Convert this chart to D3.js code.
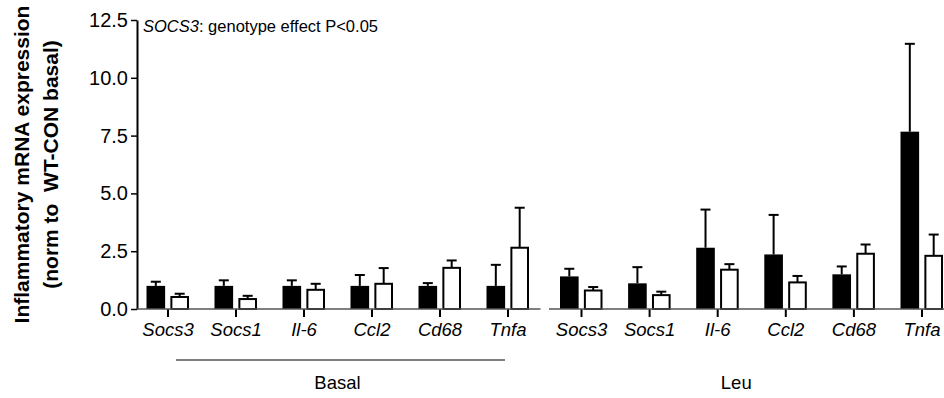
<!DOCTYPE html>
<html>
<head>
<meta charset="utf-8">
<script src="https://cdn.jsdelivr.net/npm/d3@7"></script>
<style>
  body { margin: 0; background: #fff; }
  text { font-family: "Liberation Sans", Arial, sans-serif; fill: #000; }
  .xaxis text { font-style: italic; font-size: 18.5px; }
  .yaxis text { font-size: 20px; }
</style>
</head>
<body>
<div id="chart"></div>
<script>
// categories (genes) and group labels
var genes = ["Socs3", "Socs1", "Il-6", "Ccl2", "Cd68", "Tnfa"];
var groups = ["Basal", "Leu"];
var yTicks = [0, 2.5, 5, 7.5, 10, 12.5];

// means and upward error (SEM)
var basalFilled = [1.0, 1.0, 1.0, 1.0, 1.0, 1.0],
    basalFilledErr = [0.18, 0.24, 0.24, 0.47, 0.12, 0.91],
    basalOpen = [0.52, 0.43, 0.83, 1.09, 1.78, 2.65],
    basalOpenErr = [0.14, 0.14, 0.26, 0.68, 0.32, 1.73];

var leuFilled = [1.41, 1.11, 2.65, 2.36, 1.50, 7.67],
    leuFilledErr = [0.33, 0.70, 1.65, 1.71, 0.34, 3.80],
    leuOpen = [0.80, 0.60, 1.70, 1.15, 2.39, 2.30],
    leuOpenErr = [0.15, 0.15, 0.24, 0.28, 0.40, 0.92];

var W = 944, H = 398;
var axisX = 137, y0 = 309, yTop = 20;

var svg = d3.select("#chart")
    .append("svg")
    .attr("width", W)
    .attr("height", H);

// scales
var y = d3.scaleLinear().domain([0, 12.5]).range([y0, yTop]);
var xBasal = d3.scalePoint().domain(genes).range([167.5, 507.5]);
var xLeu = d3.scalePoint().domain(genes).range([581, 921.5]);
var xSub = d3.scaleBand().domain(["filled", "open"]).range([-21, 21.5]).paddingInner(0.22);

// flatten into bar records
function rows(group, xs, filled, filledErr, open, openErr) {
    var out = [];
    genes.forEach(function(g, i) {
        out.push({group: group, gene: g, x: xs, kind: "filled", mean: filled[i], err: filledErr[i]});
        out.push({group: group, gene: g, x: xs, kind: "open", mean: open[i], err: openErr[i]});
    });
    return out;
}
var data = rows("Basal", xBasal, basalFilled, basalFilledErr, basalOpen, basalOpenErr)
    .concat(rows("Leu", xLeu, leuFilled, leuFilledErr, leuOpen, leuOpenErr));

function barLeft(d) { return d.x(d.gene) + xSub(d.kind); }
function barMid(d) { return barLeft(d) + xSub.bandwidth() / 2; }

// error bars (drawn under bars)
var eb = svg.append("g").attr("class", "errbars");
eb.selectAll("line.stem")
    .data(data)
  .enter().append("line")
    .attr("x1", barMid).attr("x2", barMid)
    .attr("y1", function(d) { return y(d.mean); })
    .attr("y2", function(d) { return y(d.mean + d.err); })
    .style("stroke", "#000").style("stroke-width", 2);
eb.selectAll("line.cap")
    .data(data)
  .enter().append("line")
    .attr("x1", function(d) { return barMid(d) - 5; })
    .attr("x2", function(d) { return barMid(d) + 5; })
    .attr("y1", function(d) { return y(d.mean + d.err); })
    .attr("y2", function(d) { return y(d.mean + d.err); })
    .style("stroke", "#000").style("stroke-width", 2);

// bars
svg.selectAll(".bar")
    .data(data)
  .enter().append("rect")
    .attr("class", "bar")
    .attr("x", function(d) { return d.kind == "open" ? barLeft(d) + 1 : barLeft(d); })
    .attr("width", function(d) { return d.kind == "open" ? xSub.bandwidth() - 2 : xSub.bandwidth(); })
    .attr("y", function(d) { return y(d.mean); })
    .attr("height", function(d) { return y0 - y(d.mean); })
    .style("fill", function(d) { return d.kind == "open" ? "#fff" : "#000"; })
    .style("stroke", "#000")
    .style("stroke-width", function(d) { return d.kind == "open" ? 2 : 0; });

// Y axis
var yAxis = svg.append("g")
    .attr("class", "yaxis")
    .attr("transform", "translate(" + axisX + ",0)")
    .call(d3.axisLeft(y).tickValues(yTicks).tickFormat(d3.format(".1f")).tickSize(6).tickPadding(3).tickSizeOuter(0));
yAxis.select(".domain").style("stroke", "#000").style("stroke-width", 2);
yAxis.selectAll(".tick line").style("stroke", "#000").style("stroke-width", 1.5);

// X axes, one per group, with a break between
function xAxisGroup(xs, x1, x2) {
    var g = svg.append("g")
        .attr("class", "xaxis")
        .attr("transform", "translate(0," + y0 + ")")
        .call(d3.axisBottom(xs).tickSize(8).tickPadding(6).tickSizeOuter(0));
    g.select(".domain").remove();
    g.selectAll(".tick line").style("stroke", "#000").style("stroke-width", 2);
    g.append("line")
        .attr("x1", x1).attr("x2", x2)
        .attr("y1", 0).attr("y2", 0)
        .style("stroke", "#555").style("stroke-width", 1.5);
}
xAxisGroup(xBasal, axisX, xBasal("Tnfa") + 33);
xAxisGroup(xLeu, xLeu("Socs3") - 32, W);

// group labels
svg.append("line")
    .attr("x1", 176).attr("x2", 505)
    .attr("y1", 360).attr("y2", 360)
    .style("stroke", "#000").style("stroke-width", 1.2);
svg.append("text")
    .attr("x", (xBasal("Socs3") + xBasal("Tnfa")) / 2)
    .attr("y", 389)
    .attr("text-anchor", "middle")
    .style("font-size", "18.5px")
    .text(groups[0]);
svg.append("text")
    .attr("x", (xLeu("Socs3") + xLeu("Tnfa")) / 2 - 15)
    .attr("y", 389)
    .attr("text-anchor", "middle")
    .style("font-size", "18.5px")
    .text(groups[1]);

// Y title, two lines
var yt = svg.append("text")
    .attr("transform", "translate(0," + ((y0 + yTop) / 2) + ") rotate(-90)")
    .attr("text-anchor", "middle")
    .style("font-size", "21px")
    .style("font-weight", "bold")
    .style("white-space", "pre");
yt.append("tspan").attr("x", 0).attr("y", 29).text("Inflammatory mRNA expression");
yt.append("tspan").attr("x", 0).attr("y", 58).text("(norm to  WT-CON basal)");

// annotation
var note = svg.append("text")
    .attr("x", 143)
    .attr("y", 32)
    .style("font-size", "16.5px");
note.append("tspan").style("font-style", "italic").text("SOCS3");
note.append("tspan").text(": genotype effect P<0.05");
</script>
</body>
</html>
